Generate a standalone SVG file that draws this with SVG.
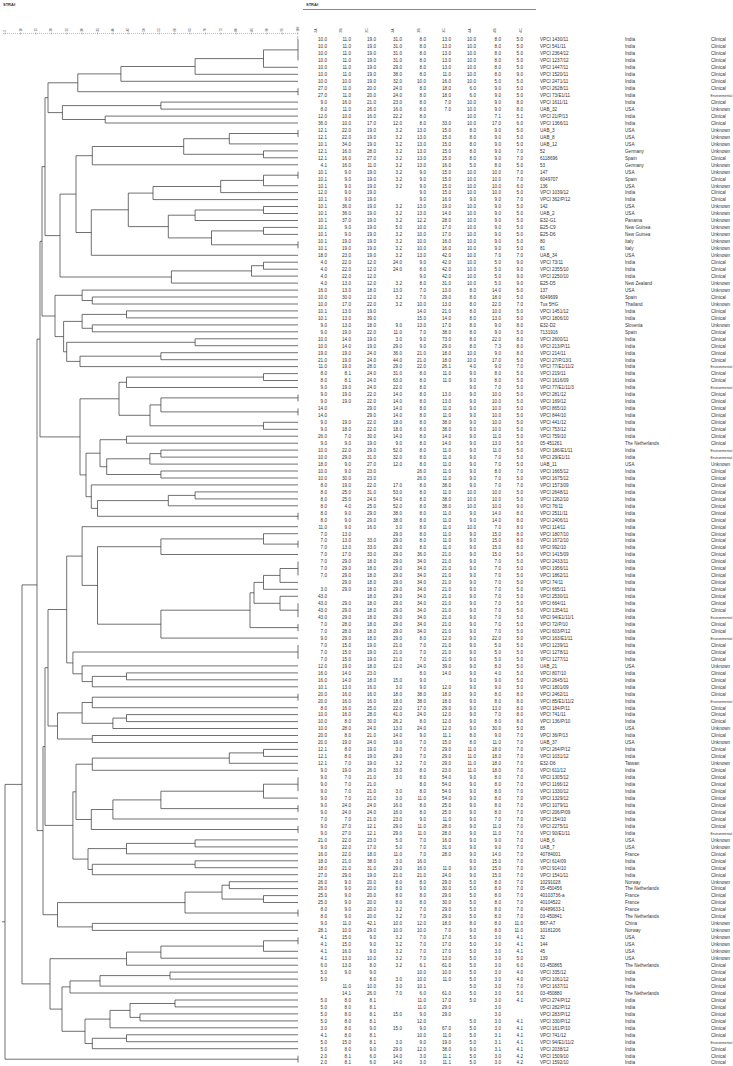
<svg xmlns="http://www.w3.org/2000/svg" width="733" height="1066" viewBox="0 0 733 1066">
<style>
text{font-family:"Liberation Sans",Arial,sans-serif;fill:#333}
.n{font-size:4.6px;text-anchor:end}
.l{font-size:4.6px}
.e{font-size:3.4px}
.h{font-size:4px;font-weight:bold}
.hd{font-size:3.5px}
.ax{font-size:3px}
#tree path{fill:none;stroke:#333;stroke-width:0.7}
</style>
<rect width="733" height="1066" fill="#fff"/>
<text class="h" x="3" y="6">STRAf</text>
<text class="h" x="306" y="6">STRAf</text>
<line x1="303" y1="9.5" x2="536" y2="9.5" stroke="#888" stroke-width="1"/>
<g id="axis">
<line x1="3" y1="33.5" x2="298" y2="33.5" stroke="#777" stroke-width="0.6" stroke-dasharray="0.8,1.2"/>
<path d="M5.1 32.5v2M20.5 32.5v2M35.9 32.5v2M51.3 32.5v2M66.7 32.5v2M82.1 32.5v2M97.5 32.5v2M112.9 32.5v2M128.3 32.5v2M143.7 32.5v2M159.1 32.5v2M174.5 32.5v2M189.9 32.5v2M205.3 32.5v2M220.7 32.5v2M236.1 32.5v2M251.5 32.5v2M266.9 32.5v2M282.3 32.5v2M297.7 32.5v2M297.7 36v4" stroke="#777" stroke-width="0.5"/>
<g class="ax">
<text transform="translate(6.2,31.5) rotate(-90)">5</text>
<text transform="translate(21.6,31.5) rotate(-90)">10</text>
<text transform="translate(37,31.5) rotate(-90)">15</text>
<text transform="translate(52.4,31.5) rotate(-90)">20</text>
<text transform="translate(67.8,31.5) rotate(-90)">25</text>
<text transform="translate(83.2,31.5) rotate(-90)">30</text>
<text transform="translate(98.6,31.5) rotate(-90)">35</text>
<text transform="translate(114,31.5) rotate(-90)">40</text>
<text transform="translate(129.4,31.5) rotate(-90)">45</text>
<text transform="translate(144.8,31.5) rotate(-90)">50</text>
<text transform="translate(160.2,31.5) rotate(-90)">55</text>
<text transform="translate(175.6,31.5) rotate(-90)">60</text>
<text transform="translate(191,31.5) rotate(-90)">65</text>
<text transform="translate(206.4,31.5) rotate(-90)">70</text>
<text transform="translate(221.8,31.5) rotate(-90)">75</text>
<text transform="translate(237.2,31.5) rotate(-90)">80</text>
<text transform="translate(252.6,31.5) rotate(-90)">85</text>
<text transform="translate(268,31.5) rotate(-90)">90</text>
<text transform="translate(283.4,31.5) rotate(-90)">95</text>
<text transform="translate(298.8,31.5) rotate(-90)">100</text>
</g>
</g>
<g id="headers" class="hd">
<text transform="translate(316.5,32.7) rotate(-90)">2A</text>
<text transform="translate(341.5,32.7) rotate(-90)">2B</text>
<text transform="translate(368,32.7) rotate(-90)">2C</text>
<text transform="translate(394,32.7) rotate(-90)">3A</text>
<text transform="translate(419.5,32.7) rotate(-90)">3B</text>
<text transform="translate(445.3,32.7) rotate(-90)">3C</text>
<text transform="translate(470.5,32.7) rotate(-90)">4A</text>
<text transform="translate(496.3,32.7) rotate(-90)">4B</text>
<text transform="translate(522,32.7) rotate(-90)">4C</text>
</g>
<g id="tree">
<path d="M298 39.5V60.4M298 88.2V95.2M298 130V136.9M298 171.7V178.7M298 241.3V248.3M298 394.5V401.4M298 408.4V415.3M298 512.8V519.7M298 540.6V547.6M298 561.5V575.4M298 603.3V617.2M298 624.1V631.1M298 645V658.9M298 693.7V700.7M298 777.3V791.2M298 805.1V812.1M298 826V832.9M298 909.5V916.5M298 937.3V944.3M298 1055.7V1062.6"/>
<path d="M298 49.9H263.5V67.3H298M263.5 58.6H195.1V74.3H298M195.1 66.5H120.9V81.3H298M120.9 73.9H77.8V91.7H298M298 102.1H160.9V109.1H298M298 116.1H105.2V123H298M160.9 105.6H62.4V119.5H105.2M77.8 82.8H48V112.6H62.4"/>
<path d="M298 133.5H229.3V143.9H298M298 150.9H263.5V157.8H298M229.3 138.7H183.7V154.3H263.5M183.7 146.5H92.3V164.8H298M298 175.2H263.5V185.7H298M263.5 180.4H220.7V192.6H298M220.7 186.5H153V199.6H298M298 206.5H263.5V213.5H298M263.5 210H195.1V220.5H298M298 227.4H263.5V234.4H298M263.5 230.9H211.5V244.8H298M195.1 215.2H168.3V237.9H211.5M153 193.1H128.3V226.6H168.3M128.3 209.8H91.3V255.3H298M92.3 155.7H76V232.5H91.3"/>
<path d="M298 262.2H263.5V269.2H298M263.5 265.7H251.5V276.1H298M251.5 270.9H171.4V283.1H298M76 194.1H60V277H171.4M48 97.7H45V235.6H60"/>
<path d="M298 297H92.3V304H298M298 290.1H82.1V300.5H92.3M298 310.9H126.5V317.9H298M298 324.9H92.3V331.8H298M126.5 314.4H82.1V328.3H92.3M298 338.8H195.1V345.7H298M298 352.7H160.9V359.7H298M160.9 356.2H80V366.6H298M195.1 342.3H66.7V361.4H80M82.1 321.4H63.6V351.8H66.7M82.1 295.3H55V336.6H63.6M45 166.6H42V316H55"/>
<path d="M298 373.6H263.5V380.5H298M263.5 377.1H126.5V387.5H298M298 397.9H160.9V411.9H298M298 422.3H263.5V429.3H298M160.9 404.9H150V425.8H263.5M126.5 382.3H119V415.3H150M298 436.2H126.5V443.2H298M298 450.1H160.9V457.1H298M160.9 453.6H149.9V464.1H298M298 471H160.9V478H298M149.9 458.8H106.7V474.5H160.9M126.5 439.7H100V466.7H106.7M298 491.9H195.1V498.9H298M195.1 495.4H168.3V505.8H298M168.3 500.6H97.5V516.3H298M298 484.9H91.3V508.4H97.5M100 453.2H86V496.7H91.3M119 398.8H80V474.9H86M42 241.3H40V436.9H80"/>
<path d="M298 533.7H263.5V544.1H298M263.5 538.9H160.9V554.5H298M298 568.5H280V582.4H298M280 575.4H263.5V589.3H298M298 596.3H280V610.2H298M263.5 582.4H254V603.3H280M254 592.8H250V627.6H298M250 610.2H160.9V638.1H298M160.9 546.7H97.5V624.2H160.9M298 526.7H82.1V585.4H97.5M298 672.9H126.5V679.8H298M126.5 676.4H92.3V686.8H298M298 665.9H82.1V681.6H92.3M298 652H72.9V673.8H82.1M82.1 556.1H66.7V662.9H72.9"/>
<path d="M298 697.2H92.3V707.7H298M298 714.6H126.5V721.6H298M126.5 718.1H112.9V728.5H298M92.3 702.5H82.1V723.3H112.9M298 735.5H92.3V742.5H298M82.1 712.9H57.5V739H92.3M66.7 609.5H48V726H57.5"/>
<path d="M298 749.4H263.5V756.4H298M263.5 752.9H229.3V763.3H298M229.3 758.1H92.3V770.3H298M298 784.2H263.5V798.1H298M263.5 791.2H160.9V808.6H298M160.9 799.9H112.9V819H298M112.9 809.5H91.3V829.5H298M92.3 764.2H76V819.5H91.3M298 839.9H195.1V846.9H298M195.1 843.4H126.5V853.8H298M298 860.8H195.1V867.7H298M195.1 864.3H92.3V874.7H298M126.5 848.6H88V869.5H92.3M76 791.8H72.9V859.1H88M48 667.7H45V825.4H72.9"/>
<path d="M298 881.7H229.3V888.6H298M298 895.6H263.5V902.5H298M229.3 885.2H222V899.1H263.5M222 892.1H185V913H298M298 923.4H92.3V930.4H298M185 902.6H57.5V926.9H92.3M45 746.6H43V914.7H57.5M40 339.1H37V830.6H43"/>
<path d="M298 940.8H263.5V951.3H298M263.5 946.1H160.9V958.2H298M160.9 952.1H126.5V965.2H298M298 972.1H170V979.1H298M170 975.6H100V986.1H298M100 980.9H70V993H298M298 1000H175V1006.9H298M298 1013.9H140V1020.9H298M175 1003.5H130V1017.4H140M130 1010.4H110V1027.8H298M298 1034.8H126.5V1041.7H298M126.5 1038.3H92.3V1048.7H298M110 1019.1H85V1043.5H92.3M70 986.9H62V1031.3H85M126.5 958.7H50V1009.1H62"/>
<path d="M37 584.9H22V983.9H50M22 784.4H5V1059.2H298M5 921.8H2"/>
</g>
<g id="table">
<g id="r0"><text class="n" y="41.3"><tspan x="327">10.0</tspan><tspan x="351">11.0</tspan><tspan x="376">19.0</tspan><tspan x="402">31.0</tspan><tspan x="426">8.0</tspan><tspan x="451">13.0</tspan><tspan x="476">10.0</tspan><tspan x="501">8.0</tspan><tspan x="523">5.0</tspan></text><text class="l" y="41.3"><tspan x="540">VPCI 1430/11</tspan><tspan x="625">India</tspan><tspan x="711">Clinical</tspan></text></g>
<g id="r1"><text class="n" y="48.3"><tspan x="327">10.0</tspan><tspan x="351">11.0</tspan><tspan x="376">19.0</tspan><tspan x="402">31.0</tspan><tspan x="426">8.0</tspan><tspan x="451">13.0</tspan><tspan x="476">10.0</tspan><tspan x="501">8.0</tspan><tspan x="523">5.0</tspan></text><text class="l" y="48.3"><tspan x="540">VPCI 541/11</tspan><tspan x="625">India</tspan><tspan x="711">Clinical</tspan></text></g>
<g id="r2"><text class="n" y="55.2"><tspan x="327">10.0</tspan><tspan x="351">11.0</tspan><tspan x="376">19.0</tspan><tspan x="402">31.0</tspan><tspan x="426">8.0</tspan><tspan x="451">13.0</tspan><tspan x="476">10.0</tspan><tspan x="501">8.0</tspan><tspan x="523">5.0</tspan></text><text class="l" y="55.2"><tspan x="540">VPCI 2364/12</tspan><tspan x="625">India</tspan><tspan x="711">Clinical</tspan></text></g>
<g id="r3"><text class="n" y="62.2"><tspan x="327">10.0</tspan><tspan x="351">11.0</tspan><tspan x="376">19.0</tspan><tspan x="402">31.0</tspan><tspan x="426">8.0</tspan><tspan x="451">13.0</tspan><tspan x="476">10.0</tspan><tspan x="501">8.0</tspan><tspan x="523">5.0</tspan></text><text class="l" y="62.2"><tspan x="540">VPCI 1237/12</tspan><tspan x="625">India</tspan><tspan x="711">Clinical</tspan></text></g>
<g id="r4"><text class="n" y="69.1"><tspan x="327">10.0</tspan><tspan x="351">11.0</tspan><tspan x="376">19.0</tspan><tspan x="402">29.0</tspan><tspan x="426">8.0</tspan><tspan x="451">13.0</tspan><tspan x="476">10.0</tspan><tspan x="501">8.0</tspan><tspan x="523">5.0</tspan></text><text class="l" y="69.1"><tspan x="540">VPCI 1447/11</tspan><tspan x="625">India</tspan><tspan x="711">Clinical</tspan></text></g>
<g id="r5"><text class="n" y="76.1"><tspan x="327">10.0</tspan><tspan x="351">11.0</tspan><tspan x="376">19.0</tspan><tspan x="402">38.0</tspan><tspan x="426">8.0</tspan><tspan x="451">11.0</tspan><tspan x="476">10.0</tspan><tspan x="501">8.0</tspan><tspan x="523">9.0</tspan></text><text class="l" y="76.1"><tspan x="540">VPCI 1520/11</tspan><tspan x="625">India</tspan><tspan x="711">Clinical</tspan></text></g>
<g id="r6"><text class="n" y="83.1"><tspan x="327">10.0</tspan><tspan x="351">10.0</tspan><tspan x="376">19.0</tspan><tspan x="402">32.0</tspan><tspan x="426">10.0</tspan><tspan x="451">16.0</tspan><tspan x="476">10.0</tspan><tspan x="501">5.0</tspan><tspan x="523">5.0</tspan></text><text class="l" y="83.1"><tspan x="540">VPCI 2471/11</tspan><tspan x="625">India</tspan><tspan x="711">Clinical</tspan></text></g>
<g id="r7"><text class="n" y="90.0"><tspan x="327">27.0</tspan><tspan x="351">11.0</tspan><tspan x="376">20.0</tspan><tspan x="402">24.0</tspan><tspan x="426">8.0</tspan><tspan x="451">18.0</tspan><tspan x="476">6.0</tspan><tspan x="501">9.0</tspan><tspan x="523">5.0</tspan></text><text class="l" y="90.0"><tspan x="540">VPCI 2628/11</tspan><tspan x="625">India</tspan><tspan x="711">Clinical</tspan></text></g>
<g id="r8"><text class="n" y="97.0"><tspan x="327">27.0</tspan><tspan x="351">11.0</tspan><tspan x="376">20.0</tspan><tspan x="402">24.0</tspan><tspan x="426">8.0</tspan><tspan x="451">18.0</tspan><tspan x="476">6.0</tspan><tspan x="501">9.0</tspan><tspan x="523">5.0</tspan></text><text class="l" y="97.0"><tspan x="540">VPCI 73/E1/11</tspan><tspan x="625">India</tspan></text><text class="e" x="710.5" y="97.0">Environmental</text></g>
<g id="r9"><text class="n" y="103.9"><tspan x="327">9.0</tspan><tspan x="351">16.0</tspan><tspan x="376">21.0</tspan><tspan x="402">23.0</tspan><tspan x="426">8.0</tspan><tspan x="451">7.0</tspan><tspan x="476">10.0</tspan><tspan x="501">9.0</tspan><tspan x="523">8.0</tspan></text><text class="l" y="103.9"><tspan x="540">VPCI 1611/11</tspan><tspan x="625">India</tspan><tspan x="711">Clinical</tspan></text></g>
<g id="r10"><text class="n" y="110.9"><tspan x="327">8.0</tspan><tspan x="351">11.0</tspan><tspan x="376">26.0</tspan><tspan x="402">16.0</tspan><tspan x="426">8.0</tspan><tspan x="451">7.0</tspan><tspan x="476">10.0</tspan><tspan x="501">9.0</tspan><tspan x="523">8.0</tspan></text><text class="l" y="110.9"><tspan x="540">UAB_32</tspan><tspan x="625">USA</tspan><tspan x="711">Unknown</tspan></text></g>
<g id="r11"><text class="n" y="117.9"><tspan x="327">12.0</tspan><tspan x="351">10.0</tspan><tspan x="376">16.0</tspan><tspan x="402">22.2</tspan><tspan x="426">8.0</tspan><tspan x="476">10.0</tspan><tspan x="501">7.1</tspan><tspan x="523">5.1</tspan></text><text class="l" y="117.9"><tspan x="540">VPCI 21/P/13</tspan><tspan x="625">India</tspan><tspan x="711">Clinical</tspan></text></g>
<g id="r12"><text class="n" y="124.8"><tspan x="327">36.0</tspan><tspan x="351">10.0</tspan><tspan x="376">17.0</tspan><tspan x="402">12.0</tspan><tspan x="426">8.0</tspan><tspan x="451">33.0</tspan><tspan x="476">10.0</tspan><tspan x="501">17.0</tspan><tspan x="523">6.0</tspan></text><text class="l" y="124.8"><tspan x="540">VPCI 1366/11</tspan><tspan x="625">India</tspan><tspan x="711">Clinical</tspan></text></g>
<g id="r13"><text class="n" y="131.8"><tspan x="327">12.1</tspan><tspan x="351">22.0</tspan><tspan x="376">19.0</tspan><tspan x="402">3.2</tspan><tspan x="426">13.0</tspan><tspan x="451">15.0</tspan><tspan x="476">8.0</tspan><tspan x="501">9.0</tspan><tspan x="523">5.0</tspan></text><text class="l" y="131.8"><tspan x="540">UAB_3</tspan><tspan x="625">USA</tspan><tspan x="711">Unknown</tspan></text></g>
<g id="r14"><text class="n" y="138.7"><tspan x="327">12.1</tspan><tspan x="351">22.0</tspan><tspan x="376">19.0</tspan><tspan x="402">3.2</tspan><tspan x="426">13.0</tspan><tspan x="451">15.0</tspan><tspan x="476">8.0</tspan><tspan x="501">9.0</tspan><tspan x="523">5.0</tspan></text><text class="l" y="138.7"><tspan x="540">UAB_8</tspan><tspan x="625">USA</tspan><tspan x="711">Unknown</tspan></text></g>
<g id="r15"><text class="n" y="145.7"><tspan x="327">10.1</tspan><tspan x="351">34.0</tspan><tspan x="376">19.0</tspan><tspan x="402">3.2</tspan><tspan x="426">13.0</tspan><tspan x="451">15.0</tspan><tspan x="476">8.0</tspan><tspan x="501">9.0</tspan><tspan x="523">5.0</tspan></text><text class="l" y="145.7"><tspan x="540">UAB_12</tspan><tspan x="625">USA</tspan><tspan x="711">Unknown</tspan></text></g>
<g id="r16"><text class="n" y="152.7"><tspan x="327">12.1</tspan><tspan x="351">16.0</tspan><tspan x="376">28.0</tspan><tspan x="402">3.2</tspan><tspan x="426">13.0</tspan><tspan x="451">15.0</tspan><tspan x="476">8.0</tspan><tspan x="501">9.0</tspan><tspan x="523">7.0</tspan></text><text class="l" y="152.7"><tspan x="540">52</tspan><tspan x="625">Germany</tspan><tspan x="711">Unknown</tspan></text></g>
<g id="r17"><text class="n" y="159.6"><tspan x="327">12.1</tspan><tspan x="351">16.0</tspan><tspan x="376">27.0</tspan><tspan x="402">3.2</tspan><tspan x="426">13.0</tspan><tspan x="451">15.0</tspan><tspan x="476">8.0</tspan><tspan x="501">9.0</tspan><tspan x="523">7.0</tspan></text><text class="l" y="159.6"><tspan x="540">6118696</tspan><tspan x="625">Spain</tspan><tspan x="711">Clinical</tspan></text></g>
<g id="r18"><text class="n" y="166.6"><tspan x="327">4.1</tspan><tspan x="351">16.0</tspan><tspan x="376">11.0</tspan><tspan x="402">3.2</tspan><tspan x="426">13.0</tspan><tspan x="451">16.0</tspan><tspan x="476">5.0</tspan><tspan x="501">8.0</tspan><tspan x="523">5.0</tspan></text><text class="l" y="166.6"><tspan x="540">53</tspan><tspan x="625">Germany</tspan><tspan x="711">Unknown</tspan></text></g>
<g id="r19"><text class="n" y="173.5"><tspan x="327">10.1</tspan><tspan x="351">9.0</tspan><tspan x="376">19.0</tspan><tspan x="402">3.2</tspan><tspan x="426">9.0</tspan><tspan x="451">15.0</tspan><tspan x="476">10.0</tspan><tspan x="501">10.0</tspan><tspan x="523">7.0</tspan></text><text class="l" y="173.5"><tspan x="540">147</tspan><tspan x="625">USA</tspan><tspan x="711">Unknown</tspan></text></g>
<g id="r20"><text class="n" y="180.5"><tspan x="327">10.1</tspan><tspan x="351">9.0</tspan><tspan x="376">19.0</tspan><tspan x="402">3.2</tspan><tspan x="426">9.0</tspan><tspan x="451">15.0</tspan><tspan x="476">10.0</tspan><tspan x="501">10.0</tspan><tspan x="523">7.0</tspan></text><text class="l" y="180.5"><tspan x="540">6049707</tspan><tspan x="625">Spain</tspan><tspan x="711">Clinical</tspan></text></g>
<g id="r21"><text class="n" y="187.5"><tspan x="327">10.1</tspan><tspan x="351">9.0</tspan><tspan x="376">19.0</tspan><tspan x="402">3.2</tspan><tspan x="426">9.0</tspan><tspan x="451">15.0</tspan><tspan x="476">10.0</tspan><tspan x="501">10.0</tspan><tspan x="523">6.0</tspan></text><text class="l" y="187.5"><tspan x="540">136</tspan><tspan x="625">USA</tspan><tspan x="711">Unknown</tspan></text></g>
<g id="r22"><text class="n" y="194.4"><tspan x="327">12.0</tspan><tspan x="351">9.0</tspan><tspan x="376">19.0</tspan><tspan x="426">9.0</tspan><tspan x="451">15.0</tspan><tspan x="476">10.0</tspan><tspan x="501">10.0</tspan><tspan x="523">5.0</tspan></text><text class="l" y="194.4"><tspan x="540">VPCI 1039/12</tspan><tspan x="625">India</tspan><tspan x="711">Clinical</tspan></text></g>
<g id="r23"><text class="n" y="201.4"><tspan x="327">10.1</tspan><tspan x="351">9.0</tspan><tspan x="376">19.0</tspan><tspan x="426">9.0</tspan><tspan x="451">16.0</tspan><tspan x="476">9.0</tspan><tspan x="501">9.0</tspan><tspan x="523">7.0</tspan></text><text class="l" y="201.4"><tspan x="540">VPCI 362/P/12</tspan><tspan x="625">India</tspan><tspan x="711">Clinical</tspan></text></g>
<g id="r24"><text class="n" y="208.3"><tspan x="327">10.1</tspan><tspan x="351">36.0</tspan><tspan x="376">19.0</tspan><tspan x="402">3.2</tspan><tspan x="426">13.0</tspan><tspan x="451">19.0</tspan><tspan x="476">10.0</tspan><tspan x="501">9.0</tspan><tspan x="523">5.0</tspan></text><text class="l" y="208.3"><tspan x="540">142</tspan><tspan x="625">USA</tspan><tspan x="711">Unknown</tspan></text></g>
<g id="r25"><text class="n" y="215.3"><tspan x="327">10.1</tspan><tspan x="351">36.0</tspan><tspan x="376">19.0</tspan><tspan x="402">3.2</tspan><tspan x="426">13.0</tspan><tspan x="451">14.0</tspan><tspan x="476">10.0</tspan><tspan x="501">9.0</tspan><tspan x="523">5.0</tspan></text><text class="l" y="215.3"><tspan x="540">UAB_2</tspan><tspan x="625">USA</tspan><tspan x="711">Unknown</tspan></text></g>
<g id="r26"><text class="n" y="222.3"><tspan x="327">10.1</tspan><tspan x="351">37.0</tspan><tspan x="376">19.0</tspan><tspan x="402">3.2</tspan><tspan x="426">12.2</tspan><tspan x="451">28.0</tspan><tspan x="476">10.0</tspan><tspan x="501">9.0</tspan><tspan x="523">5.0</tspan></text><text class="l" y="222.3"><tspan x="540">E32-G1</tspan><tspan x="625">Panama</tspan><tspan x="711">Unknown</tspan></text></g>
<g id="r27"><text class="n" y="229.2"><tspan x="327">10.1</tspan><tspan x="351">9.0</tspan><tspan x="376">19.0</tspan><tspan x="402">5.0</tspan><tspan x="426">10.0</tspan><tspan x="451">17.0</tspan><tspan x="476">10.0</tspan><tspan x="501">9.0</tspan><tspan x="523">5.0</tspan></text><text class="l" y="229.2"><tspan x="540">E25-C9</tspan><tspan x="625">New Guinea</tspan><tspan x="711">Unknown</tspan></text></g>
<g id="r28"><text class="n" y="236.2"><tspan x="327">10.1</tspan><tspan x="351">9.0</tspan><tspan x="376">19.0</tspan><tspan x="402">3.2</tspan><tspan x="426">10.0</tspan><tspan x="451">17.0</tspan><tspan x="476">10.0</tspan><tspan x="501">9.0</tspan><tspan x="523">5.0</tspan></text><text class="l" y="236.2"><tspan x="540">E25-D6</tspan><tspan x="625">New Guinea</tspan><tspan x="711">Unknown</tspan></text></g>
<g id="r29"><text class="n" y="243.1"><tspan x="327">10.1</tspan><tspan x="351">19.0</tspan><tspan x="376">19.0</tspan><tspan x="402">3.2</tspan><tspan x="426">10.0</tspan><tspan x="451">16.0</tspan><tspan x="476">10.0</tspan><tspan x="501">9.0</tspan><tspan x="523">5.0</tspan></text><text class="l" y="243.1"><tspan x="540">80</tspan><tspan x="625">Italy</tspan><tspan x="711">Unknown</tspan></text></g>
<g id="r30"><text class="n" y="250.1"><tspan x="327">10.1</tspan><tspan x="351">19.0</tspan><tspan x="376">19.0</tspan><tspan x="402">3.2</tspan><tspan x="426">10.0</tspan><tspan x="451">16.0</tspan><tspan x="476">10.0</tspan><tspan x="501">9.0</tspan><tspan x="523">5.0</tspan></text><text class="l" y="250.1"><tspan x="540">81</tspan><tspan x="625">Italy</tspan><tspan x="711">Unknown</tspan></text></g>
<g id="r31"><text class="n" y="257.1"><tspan x="327">18.0</tspan><tspan x="351">23.0</tspan><tspan x="376">19.0</tspan><tspan x="402">3.2</tspan><tspan x="426">13.0</tspan><tspan x="451">42.0</tspan><tspan x="476">10.0</tspan><tspan x="501">7.0</tspan><tspan x="523">7.0</tspan></text><text class="l" y="257.1"><tspan x="540">UAB_34</tspan><tspan x="625">USA</tspan><tspan x="711">Unknown</tspan></text></g>
<g id="r32"><text class="n" y="264.0"><tspan x="327">4.0</tspan><tspan x="351">22.0</tspan><tspan x="376">12.0</tspan><tspan x="402">24.0</tspan><tspan x="426">9.0</tspan><tspan x="451">42.0</tspan><tspan x="476">10.0</tspan><tspan x="501">5.0</tspan><tspan x="523">9.0</tspan></text><text class="l" y="264.0"><tspan x="540">VPCI 73/11</tspan><tspan x="625">India</tspan><tspan x="711">Clinical</tspan></text></g>
<g id="r33"><text class="n" y="271.0"><tspan x="327">4.0</tspan><tspan x="351">22.0</tspan><tspan x="376">12.0</tspan><tspan x="402">24.0</tspan><tspan x="426">8.0</tspan><tspan x="451">42.0</tspan><tspan x="476">10.0</tspan><tspan x="501">5.0</tspan><tspan x="523">9.0</tspan></text><text class="l" y="271.0"><tspan x="540">VPCI 2355/10</tspan><tspan x="625">India</tspan><tspan x="711">Clinical</tspan></text></g>
<g id="r34"><text class="n" y="277.9"><tspan x="327">4.0</tspan><tspan x="351">22.0</tspan><tspan x="376">12.0</tspan><tspan x="426">9.0</tspan><tspan x="451">42.0</tspan><tspan x="476">10.0</tspan><tspan x="501">5.0</tspan><tspan x="523">9.0</tspan></text><text class="l" y="277.9"><tspan x="540">VPCI 2250/10</tspan><tspan x="625">India</tspan><tspan x="711">Clinical</tspan></text></g>
<g id="r35"><text class="n" y="284.9"><tspan x="327">4.0</tspan><tspan x="351">13.0</tspan><tspan x="376">12.0</tspan><tspan x="402">3.2</tspan><tspan x="426">8.0</tspan><tspan x="451">31.0</tspan><tspan x="476">10.0</tspan><tspan x="501">5.0</tspan><tspan x="523">9.0</tspan></text><text class="l" y="284.9"><tspan x="540">E25-D5</tspan><tspan x="625">New Zealand</tspan><tspan x="711">Unknown</tspan></text></g>
<g id="r36"><text class="n" y="291.9"><tspan x="327">16.0</tspan><tspan x="351">13.0</tspan><tspan x="376">18.0</tspan><tspan x="402">13.0</tspan><tspan x="426">7.0</tspan><tspan x="451">13.0</tspan><tspan x="476">8.0</tspan><tspan x="501">14.0</tspan><tspan x="523">5.0</tspan></text><text class="l" y="291.9"><tspan x="540">137</tspan><tspan x="625">USA</tspan><tspan x="711">Unknown</tspan></text></g>
<g id="r37"><text class="n" y="298.8"><tspan x="327">10.0</tspan><tspan x="351">30.0</tspan><tspan x="376">12.0</tspan><tspan x="402">3.2</tspan><tspan x="426">7.0</tspan><tspan x="451">29.0</tspan><tspan x="476">8.0</tspan><tspan x="501">18.0</tspan><tspan x="523">5.0</tspan></text><text class="l" y="298.8"><tspan x="540">6049699</tspan><tspan x="625">Spain</tspan><tspan x="711">Clinical</tspan></text></g>
<g id="r38"><text class="n" y="305.8"><tspan x="327">10.0</tspan><tspan x="351">17.0</tspan><tspan x="376">22.0</tspan><tspan x="402">3.2</tspan><tspan x="426">10.0</tspan><tspan x="451">13.0</tspan><tspan x="476">8.0</tspan><tspan x="501">22.0</tspan><tspan x="523">7.0</tspan></text><text class="l" y="305.8"><tspan x="540">Tus 5HG</tspan><tspan x="625">Thailand</tspan><tspan x="711">Unknown</tspan></text></g>
<g id="r39"><text class="n" y="312.7"><tspan x="327">10.1</tspan><tspan x="351">13.0</tspan><tspan x="376">19.0</tspan><tspan x="426">14.0</tspan><tspan x="451">21.0</tspan><tspan x="476">8.0</tspan><tspan x="501">10.0</tspan><tspan x="523">5.0</tspan></text><text class="l" y="312.7"><tspan x="540">VPCI 1451/12</tspan><tspan x="625">India</tspan><tspan x="711">Clinical</tspan></text></g>
<g id="r40"><text class="n" y="319.7"><tspan x="327">10.1</tspan><tspan x="351">13.0</tspan><tspan x="376">39.0</tspan><tspan x="426">15.0</tspan><tspan x="451">14.0</tspan><tspan x="476">8.0</tspan><tspan x="501">13.0</tspan><tspan x="523">5.0</tspan></text><text class="l" y="319.7"><tspan x="540">VPCI 1806/10</tspan><tspan x="625">India</tspan><tspan x="711">Clinical</tspan></text></g>
<g id="r41"><text class="n" y="326.7"><tspan x="327">9.0</tspan><tspan x="351">13.0</tspan><tspan x="376">18.0</tspan><tspan x="402">9.0</tspan><tspan x="426">13.0</tspan><tspan x="451">17.0</tspan><tspan x="476">8.0</tspan><tspan x="501">9.0</tspan><tspan x="523">8.0</tspan></text><text class="l" y="326.7"><tspan x="540">E32-D2</tspan><tspan x="625">Slovenia</tspan><tspan x="711">Unknown</tspan></text></g>
<g id="r42"><text class="n" y="333.6"><tspan x="327">9.0</tspan><tspan x="351">19.0</tspan><tspan x="376">22.0</tspan><tspan x="402">11.0</tspan><tspan x="426">7.0</tspan><tspan x="451">38.0</tspan><tspan x="476">8.0</tspan><tspan x="501">9.0</tspan><tspan x="523">5.0</tspan></text><text class="l" y="333.6"><tspan x="540">7131916</tspan><tspan x="625">Spain</tspan><tspan x="711">Clinical</tspan></text></g>
<g id="r43"><text class="n" y="340.6"><tspan x="327">10.0</tspan><tspan x="351">14.0</tspan><tspan x="376">19.0</tspan><tspan x="402">3.0</tspan><tspan x="426">9.0</tspan><tspan x="451">73.0</tspan><tspan x="476">8.0</tspan><tspan x="501">22.0</tspan><tspan x="523">8.0</tspan></text><text class="l" y="340.6"><tspan x="540">VPCI 2600/11</tspan><tspan x="625">India</tspan><tspan x="711">Clinical</tspan></text></g>
<g id="r44"><text class="n" y="347.5"><tspan x="327">10.0</tspan><tspan x="351">14.0</tspan><tspan x="376">19.0</tspan><tspan x="402">29.0</tspan><tspan x="426">9.0</tspan><tspan x="451">29.0</tspan><tspan x="476">8.0</tspan><tspan x="501">7.3</tspan><tspan x="523">8.0</tspan></text><text class="l" y="347.5"><tspan x="540">VPCI 213/P/11</tspan><tspan x="625">India</tspan><tspan x="711">Clinical</tspan></text></g>
<g id="r45"><text class="n" y="354.5"><tspan x="327">19.0</tspan><tspan x="351">19.0</tspan><tspan x="376">24.0</tspan><tspan x="402">36.0</tspan><tspan x="426">21.0</tspan><tspan x="451">18.0</tspan><tspan x="476">10.0</tspan><tspan x="501">9.0</tspan><tspan x="523">8.0</tspan></text><text class="l" y="354.5"><tspan x="540">VPCI 214/11</tspan><tspan x="625">India</tspan><tspan x="711">Clinical</tspan></text></g>
<g id="r46"><text class="n" y="361.5"><tspan x="327">21.0</tspan><tspan x="351">19.0</tspan><tspan x="376">24.0</tspan><tspan x="402">44.0</tspan><tspan x="426">21.0</tspan><tspan x="451">18.0</tspan><tspan x="476">10.0</tspan><tspan x="501">17.0</tspan><tspan x="523">5.0</tspan></text><text class="l" y="361.5"><tspan x="540">VPCI 27/P/13/1</tspan><tspan x="625">India</tspan><tspan x="711">Clinical</tspan></text></g>
<g id="r47"><text class="n" y="368.4"><tspan x="327">11.0</tspan><tspan x="351">19.0</tspan><tspan x="376">28.0</tspan><tspan x="402">29.0</tspan><tspan x="426">22.0</tspan><tspan x="451">26.1</tspan><tspan x="476">4.0</tspan><tspan x="501">9.0</tspan><tspan x="523">7.0</tspan></text><text class="l" y="368.4"><tspan x="540">VPCI 77/E1/11/2</tspan><tspan x="625">India</tspan></text><text class="e" x="710.5" y="368.4">Environmental</text></g>
<g id="r48"><text class="n" y="375.4"><tspan x="327">8.0</tspan><tspan x="351">8.1</tspan><tspan x="376">24.0</tspan><tspan x="402">31.0</tspan><tspan x="426">8.0</tspan><tspan x="451">11.0</tspan><tspan x="476">9.0</tspan><tspan x="501">8.0</tspan><tspan x="523">5.0</tspan></text><text class="l" y="375.4"><tspan x="540">VPCI 219/11</tspan><tspan x="625">India</tspan><tspan x="711">Clinical</tspan></text></g>
<g id="r49"><text class="n" y="382.3"><tspan x="327">8.0</tspan><tspan x="351">8.1</tspan><tspan x="376">24.0</tspan><tspan x="402">63.0</tspan><tspan x="426">8.0</tspan><tspan x="451">11.0</tspan><tspan x="476">9.0</tspan><tspan x="501">8.0</tspan><tspan x="523">5.0</tspan></text><text class="l" y="382.3"><tspan x="540">VPCI 1616/09</tspan><tspan x="625">India</tspan><tspan x="711">Clinical</tspan></text></g>
<g id="r50"><text class="n" y="389.3"><tspan x="327">9.0</tspan><tspan x="351">19.0</tspan><tspan x="376">24.0</tspan><tspan x="402">22.0</tspan><tspan x="426">8.0</tspan><tspan x="476">9.0</tspan><tspan x="501">7.0</tspan><tspan x="523">5.0</tspan></text><text class="l" y="389.3"><tspan x="540">VPCI 77/E1/11/3</tspan><tspan x="625">India</tspan></text><text class="e" x="710.5" y="389.3">Environmental</text></g>
<g id="r51"><text class="n" y="396.3"><tspan x="327">9.0</tspan><tspan x="351">19.0</tspan><tspan x="376">22.0</tspan><tspan x="402">14.0</tspan><tspan x="426">8.0</tspan><tspan x="451">13.0</tspan><tspan x="476">9.0</tspan><tspan x="501">10.0</tspan><tspan x="523">5.0</tspan></text><text class="l" y="396.3"><tspan x="540">VPCI 281/12</tspan><tspan x="625">India</tspan><tspan x="711">Clinical</tspan></text></g>
<g id="r52"><text class="n" y="403.2"><tspan x="327">9.0</tspan><tspan x="351">19.0</tspan><tspan x="376">22.0</tspan><tspan x="402">14.0</tspan><tspan x="426">8.0</tspan><tspan x="451">13.0</tspan><tspan x="476">9.0</tspan><tspan x="501">10.0</tspan><tspan x="523">5.0</tspan></text><text class="l" y="403.2"><tspan x="540">VPCI 169/12</tspan><tspan x="625">India</tspan><tspan x="711">Clinical</tspan></text></g>
<g id="r53"><text class="n" y="410.2"><tspan x="327">14.0</tspan><tspan x="376">29.0</tspan><tspan x="402">14.0</tspan><tspan x="426">8.0</tspan><tspan x="451">11.0</tspan><tspan x="476">9.0</tspan><tspan x="501">10.0</tspan><tspan x="523">5.0</tspan></text><text class="l" y="410.2"><tspan x="540">VPCI 865/10</tspan><tspan x="625">India</tspan><tspan x="711">Clinical</tspan></text></g>
<g id="r54"><text class="n" y="417.1"><tspan x="327">14.0</tspan><tspan x="376">29.0</tspan><tspan x="402">14.0</tspan><tspan x="426">8.0</tspan><tspan x="451">11.0</tspan><tspan x="476">9.0</tspan><tspan x="501">10.0</tspan><tspan x="523">5.0</tspan></text><text class="l" y="417.1"><tspan x="540">VPCI 844/10</tspan><tspan x="625">India</tspan><tspan x="711">Clinical</tspan></text></g>
<g id="r55"><text class="n" y="424.1"><tspan x="327">9.0</tspan><tspan x="351">19.0</tspan><tspan x="376">22.0</tspan><tspan x="402">18.0</tspan><tspan x="426">8.0</tspan><tspan x="451">38.0</tspan><tspan x="476">9.0</tspan><tspan x="501">10.0</tspan><tspan x="523">5.0</tspan></text><text class="l" y="424.1"><tspan x="540">VPCI 441/12</tspan><tspan x="625">India</tspan><tspan x="711">Clinical</tspan></text></g>
<g id="r56"><text class="n" y="431.1"><tspan x="327">9.0</tspan><tspan x="351">18.0</tspan><tspan x="376">22.0</tspan><tspan x="402">18.0</tspan><tspan x="426">8.0</tspan><tspan x="451">38.0</tspan><tspan x="476">9.0</tspan><tspan x="501">10.0</tspan><tspan x="523">5.0</tspan></text><text class="l" y="431.1"><tspan x="540">VPCI 753/12</tspan><tspan x="625">India</tspan><tspan x="711">Clinical</tspan></text></g>
<g id="r57"><text class="n" y="438.0"><tspan x="327">26.0</tspan><tspan x="351">7.0</tspan><tspan x="376">30.0</tspan><tspan x="402">14.0</tspan><tspan x="426">8.0</tspan><tspan x="451">14.0</tspan><tspan x="476">9.0</tspan><tspan x="501">11.0</tspan><tspan x="523">5.0</tspan></text><text class="l" y="438.0"><tspan x="540">VPCI 759/10</tspan><tspan x="625">India</tspan><tspan x="711">Clinical</tspan></text></g>
<g id="r58"><text class="n" y="445.0"><tspan x="327">9.0</tspan><tspan x="351">9.0</tspan><tspan x="376">19.0</tspan><tspan x="402">9.0</tspan><tspan x="426">8.0</tspan><tspan x="451">14.0</tspan><tspan x="476">9.0</tspan><tspan x="501">13.0</tspan><tspan x="523">5.0</tspan></text><text class="l" y="445.0"><tspan x="540">05-451261</tspan><tspan x="625">The Netherlands</tspan><tspan x="711">Clinical</tspan></text></g>
<g id="r59"><text class="n" y="451.9"><tspan x="327">10.0</tspan><tspan x="351">22.0</tspan><tspan x="376">29.0</tspan><tspan x="402">52.0</tspan><tspan x="426">8.0</tspan><tspan x="451">11.0</tspan><tspan x="476">9.0</tspan><tspan x="501">11.0</tspan><tspan x="523">5.0</tspan></text><text class="l" y="451.9"><tspan x="540">VPCI 186/E1/11</tspan><tspan x="625">India</tspan></text><text class="e" x="710.5" y="451.9">Environmental</text></g>
<g id="r60"><text class="n" y="458.9"><tspan x="327">10.0</tspan><tspan x="351">29.0</tspan><tspan x="376">31.0</tspan><tspan x="402">32.0</tspan><tspan x="426">8.0</tspan><tspan x="451">11.0</tspan><tspan x="476">9.0</tspan><tspan x="501">7.0</tspan><tspan x="523">5.0</tspan></text><text class="l" y="458.9"><tspan x="540">VPCI 29/E1/11</tspan><tspan x="625">India</tspan></text><text class="e" x="710.5" y="458.9">Environmental</text></g>
<g id="r61"><text class="n" y="465.9"><tspan x="327">18.0</tspan><tspan x="351">9.0</tspan><tspan x="376">27.0</tspan><tspan x="402">12.0</tspan><tspan x="426">8.0</tspan><tspan x="451">11.0</tspan><tspan x="476">9.0</tspan><tspan x="501">7.0</tspan><tspan x="523">5.0</tspan></text><text class="l" y="465.9"><tspan x="540">UAB_11</tspan><tspan x="625">USA</tspan><tspan x="711">Unknown</tspan></text></g>
<g id="r62"><text class="n" y="472.8"><tspan x="327">10.0</tspan><tspan x="351">9.0</tspan><tspan x="376">23.0</tspan><tspan x="426">26.0</tspan><tspan x="451">11.0</tspan><tspan x="476">9.0</tspan><tspan x="501">8.0</tspan><tspan x="523">7.0</tspan></text><text class="l" y="472.8"><tspan x="540">VPCI 1665/12</tspan><tspan x="625">India</tspan><tspan x="711">Clinical</tspan></text></g>
<g id="r63"><text class="n" y="479.8"><tspan x="327">10.0</tspan><tspan x="351">30.0</tspan><tspan x="376">23.0</tspan><tspan x="426">26.0</tspan><tspan x="451">11.0</tspan><tspan x="476">9.0</tspan><tspan x="501">7.0</tspan><tspan x="523">5.0</tspan></text><text class="l" y="479.8"><tspan x="540">VPCI 1675/12</tspan><tspan x="625">India</tspan><tspan x="711">Clinical</tspan></text></g>
<g id="r64"><text class="n" y="486.7"><tspan x="327">8.0</tspan><tspan x="351">19.0</tspan><tspan x="376">22.0</tspan><tspan x="402">17.0</tspan><tspan x="426">8.0</tspan><tspan x="451">38.0</tspan><tspan x="476">9.0</tspan><tspan x="501">7.0</tspan><tspan x="523">7.0</tspan></text><text class="l" y="486.7"><tspan x="540">VPCI 1573/09</tspan><tspan x="625">India</tspan><tspan x="711">Clinical</tspan></text></g>
<g id="r65"><text class="n" y="493.7"><tspan x="327">8.0</tspan><tspan x="351">25.0</tspan><tspan x="376">31.0</tspan><tspan x="402">53.0</tspan><tspan x="426">8.0</tspan><tspan x="451">11.0</tspan><tspan x="476">10.0</tspan><tspan x="501">10.0</tspan><tspan x="523">5.0</tspan></text><text class="l" y="493.7"><tspan x="540">VPCI 2648/11</tspan><tspan x="625">India</tspan><tspan x="711">Clinical</tspan></text></g>
<g id="r66"><text class="n" y="500.7"><tspan x="327">8.0</tspan><tspan x="351">25.0</tspan><tspan x="376">24.0</tspan><tspan x="402">54.0</tspan><tspan x="426">8.0</tspan><tspan x="451">38.0</tspan><tspan x="476">10.0</tspan><tspan x="501">10.0</tspan><tspan x="523">5.0</tspan></text><text class="l" y="500.7"><tspan x="540">VPCI 1262/10</tspan><tspan x="625">India</tspan><tspan x="711">Clinical</tspan></text></g>
<g id="r67"><text class="n" y="507.6"><tspan x="327">8.0</tspan><tspan x="351">4.0</tspan><tspan x="376">25.0</tspan><tspan x="402">52.0</tspan><tspan x="426">8.0</tspan><tspan x="451">38.0</tspan><tspan x="476">10.0</tspan><tspan x="501">10.0</tspan><tspan x="523">9.0</tspan></text><text class="l" y="507.6"><tspan x="540">VPCI 76/11</tspan><tspan x="625">India</tspan><tspan x="711">Clinical</tspan></text></g>
<g id="r68"><text class="n" y="514.6"><tspan x="327">8.0</tspan><tspan x="351">9.0</tspan><tspan x="376">29.0</tspan><tspan x="402">38.0</tspan><tspan x="426">8.0</tspan><tspan x="451">11.0</tspan><tspan x="476">9.0</tspan><tspan x="501">14.0</tspan><tspan x="523">8.0</tspan></text><text class="l" y="514.6"><tspan x="540">VPCI 2511/11</tspan><tspan x="625">India</tspan><tspan x="711">Clinical</tspan></text></g>
<g id="r69"><text class="n" y="521.5"><tspan x="327">8.0</tspan><tspan x="351">9.0</tspan><tspan x="376">29.0</tspan><tspan x="402">38.0</tspan><tspan x="426">8.0</tspan><tspan x="451">11.0</tspan><tspan x="476">9.0</tspan><tspan x="501">14.0</tspan><tspan x="523">8.0</tspan></text><text class="l" y="521.5"><tspan x="540">VPCI 2406/11</tspan><tspan x="625">India</tspan><tspan x="711">Clinical</tspan></text></g>
<g id="r70"><text class="n" y="528.5"><tspan x="327">11.0</tspan><tspan x="351">9.0</tspan><tspan x="376">16.0</tspan><tspan x="402">3.0</tspan><tspan x="426">8.0</tspan><tspan x="451">11.0</tspan><tspan x="476">10.0</tspan><tspan x="501">7.0</tspan><tspan x="523">8.0</tspan></text><text class="l" y="528.5"><tspan x="540">VPCI 114/11</tspan><tspan x="625">India</tspan><tspan x="711">Clinical</tspan></text></g>
<g id="r71"><text class="n" y="535.5"><tspan x="327">7.0</tspan><tspan x="351">13.0</tspan><tspan x="402">29.0</tspan><tspan x="426">8.0</tspan><tspan x="451">11.0</tspan><tspan x="476">9.0</tspan><tspan x="501">15.0</tspan><tspan x="523">8.0</tspan></text><text class="l" y="535.5"><tspan x="540">VPCI 1807/10</tspan><tspan x="625">India</tspan><tspan x="711">Clinical</tspan></text></g>
<g id="r72"><text class="n" y="542.4"><tspan x="327">7.0</tspan><tspan x="351">13.0</tspan><tspan x="376">33.0</tspan><tspan x="402">29.0</tspan><tspan x="426">8.0</tspan><tspan x="451">11.0</tspan><tspan x="476">9.0</tspan><tspan x="501">15.0</tspan><tspan x="523">8.0</tspan></text><text class="l" y="542.4"><tspan x="540">VPCI 1672/10</tspan><tspan x="625">India</tspan><tspan x="711">Clinical</tspan></text></g>
<g id="r73"><text class="n" y="549.4"><tspan x="327">7.0</tspan><tspan x="351">13.0</tspan><tspan x="376">33.0</tspan><tspan x="402">29.0</tspan><tspan x="426">8.0</tspan><tspan x="451">11.0</tspan><tspan x="476">9.0</tspan><tspan x="501">15.0</tspan><tspan x="523">8.0</tspan></text><text class="l" y="549.4"><tspan x="540">VPCI 992/10</tspan><tspan x="625">India</tspan><tspan x="711">Clinical</tspan></text></g>
<g id="r74"><text class="n" y="556.3"><tspan x="327">7.0</tspan><tspan x="351">17.0</tspan><tspan x="376">33.0</tspan><tspan x="402">29.0</tspan><tspan x="426">36.0</tspan><tspan x="451">21.0</tspan><tspan x="476">9.0</tspan><tspan x="501">15.0</tspan><tspan x="523">5.0</tspan></text><text class="l" y="556.3"><tspan x="540">VPCI 1415/09</tspan><tspan x="625">India</tspan><tspan x="711">Clinical</tspan></text></g>
<g id="r75"><text class="n" y="563.3"><tspan x="327">7.0</tspan><tspan x="351">29.0</tspan><tspan x="376">18.0</tspan><tspan x="402">29.0</tspan><tspan x="426">34.0</tspan><tspan x="451">21.0</tspan><tspan x="476">9.0</tspan><tspan x="501">7.0</tspan><tspan x="523">5.0</tspan></text><text class="l" y="563.3"><tspan x="540">VPCI 2433/11</tspan><tspan x="625">India</tspan><tspan x="711">Clinical</tspan></text></g>
<g id="r76"><text class="n" y="570.3"><tspan x="327">7.0</tspan><tspan x="351">29.0</tspan><tspan x="376">18.0</tspan><tspan x="402">29.0</tspan><tspan x="426">34.0</tspan><tspan x="451">21.0</tspan><tspan x="476">9.0</tspan><tspan x="501">7.0</tspan><tspan x="523">5.0</tspan></text><text class="l" y="570.3"><tspan x="540">VPCI 1956/11</tspan><tspan x="625">India</tspan><tspan x="711">Clinical</tspan></text></g>
<g id="r77"><text class="n" y="577.2"><tspan x="327">7.0</tspan><tspan x="351">29.0</tspan><tspan x="376">18.0</tspan><tspan x="402">29.0</tspan><tspan x="426">34.0</tspan><tspan x="451">21.0</tspan><tspan x="476">9.0</tspan><tspan x="501">7.0</tspan><tspan x="523">5.0</tspan></text><text class="l" y="577.2"><tspan x="540">VPCI 1862/11</tspan><tspan x="625">India</tspan><tspan x="711">Clinical</tspan></text></g>
<g id="r78"><text class="n" y="584.2"><tspan x="351">29.0</tspan><tspan x="376">18.0</tspan><tspan x="402">29.0</tspan><tspan x="426">34.0</tspan><tspan x="451">21.0</tspan><tspan x="476">9.0</tspan><tspan x="501">7.0</tspan><tspan x="523">5.0</tspan></text><text class="l" y="584.2"><tspan x="540">VPCI 74/11</tspan><tspan x="625">India</tspan><tspan x="711">Clinical</tspan></text></g>
<g id="r79"><text class="n" y="591.1"><tspan x="327">3.0</tspan><tspan x="351">29.0</tspan><tspan x="376">18.0</tspan><tspan x="402">29.0</tspan><tspan x="426">34.0</tspan><tspan x="451">21.0</tspan><tspan x="476">9.0</tspan><tspan x="501">7.0</tspan><tspan x="523">5.0</tspan></text><text class="l" y="591.1"><tspan x="540">VPCI 665/11</tspan><tspan x="625">India</tspan><tspan x="711">Clinical</tspan></text></g>
<g id="r80"><text class="n" y="598.1"><tspan x="327">43.0</tspan><tspan x="376">18.0</tspan><tspan x="402">29.0</tspan><tspan x="426">34.0</tspan><tspan x="451">21.0</tspan><tspan x="476">9.0</tspan><tspan x="501">7.0</tspan><tspan x="523">5.0</tspan></text><text class="l" y="598.1"><tspan x="540">VPCI 2530/11</tspan><tspan x="625">India</tspan><tspan x="711">Clinical</tspan></text></g>
<g id="r81"><text class="n" y="605.1"><tspan x="327">43.0</tspan><tspan x="351">29.0</tspan><tspan x="376">18.0</tspan><tspan x="402">29.0</tspan><tspan x="426">34.0</tspan><tspan x="451">21.0</tspan><tspan x="476">9.0</tspan><tspan x="501">7.0</tspan><tspan x="523">5.0</tspan></text><text class="l" y="605.1"><tspan x="540">VPCI 664/11</tspan><tspan x="625">India</tspan><tspan x="711">Clinical</tspan></text></g>
<g id="r82"><text class="n" y="612.0"><tspan x="327">43.0</tspan><tspan x="351">29.0</tspan><tspan x="376">18.0</tspan><tspan x="402">29.0</tspan><tspan x="426">34.0</tspan><tspan x="451">21.0</tspan><tspan x="476">9.0</tspan><tspan x="501">7.0</tspan><tspan x="523">5.0</tspan></text><text class="l" y="612.0"><tspan x="540">VPCI 1354/11</tspan><tspan x="625">India</tspan><tspan x="711">Clinical</tspan></text></g>
<g id="r83"><text class="n" y="619.0"><tspan x="327">43.0</tspan><tspan x="351">29.0</tspan><tspan x="376">18.0</tspan><tspan x="402">29.0</tspan><tspan x="426">34.0</tspan><tspan x="451">21.0</tspan><tspan x="476">9.0</tspan><tspan x="501">7.0</tspan><tspan x="523">5.0</tspan></text><text class="l" y="619.0"><tspan x="540">VPCI 94/E1/11/1</tspan><tspan x="625">India</tspan></text><text class="e" x="710.5" y="619.0">Environmental</text></g>
<g id="r84"><text class="n" y="625.9"><tspan x="327">7.0</tspan><tspan x="351">28.0</tspan><tspan x="376">18.0</tspan><tspan x="402">29.0</tspan><tspan x="426">34.0</tspan><tspan x="451">21.0</tspan><tspan x="476">9.0</tspan><tspan x="501">7.0</tspan><tspan x="523">5.0</tspan></text><text class="l" y="625.9"><tspan x="540">VPCI 72/P/10</tspan><tspan x="625">India</tspan><tspan x="711">Clinical</tspan></text></g>
<g id="r85"><text class="n" y="632.9"><tspan x="327">7.0</tspan><tspan x="351">28.0</tspan><tspan x="376">18.0</tspan><tspan x="402">29.0</tspan><tspan x="426">34.0</tspan><tspan x="451">21.0</tspan><tspan x="476">9.0</tspan><tspan x="501">7.0</tspan><tspan x="523">5.0</tspan></text><text class="l" y="632.9"><tspan x="540">VPCI 603/P/12</tspan><tspan x="625">India</tspan><tspan x="711">Clinical</tspan></text></g>
<g id="r86"><text class="n" y="639.9"><tspan x="327">9.0</tspan><tspan x="351">29.0</tspan><tspan x="376">18.0</tspan><tspan x="402">29.0</tspan><tspan x="426">8.0</tspan><tspan x="451">12.0</tspan><tspan x="476">9.0</tspan><tspan x="501">22.0</tspan><tspan x="523">5.0</tspan></text><text class="l" y="639.9"><tspan x="540">VPCI 163/E1/11</tspan><tspan x="625">India</tspan></text><text class="e" x="710.5" y="639.9">Environmental</text></g>
<g id="r87"><text class="n" y="646.8"><tspan x="327">7.0</tspan><tspan x="351">15.0</tspan><tspan x="376">19.0</tspan><tspan x="402">21.0</tspan><tspan x="426">7.0</tspan><tspan x="451">21.0</tspan><tspan x="476">9.0</tspan><tspan x="501">5.0</tspan><tspan x="523">5.0</tspan></text><text class="l" y="646.8"><tspan x="540">VPCI 1239/11</tspan><tspan x="625">India</tspan><tspan x="711">Clinical</tspan></text></g>
<g id="r88"><text class="n" y="653.8"><tspan x="327">7.0</tspan><tspan x="351">15.0</tspan><tspan x="376">19.0</tspan><tspan x="402">21.0</tspan><tspan x="426">7.0</tspan><tspan x="451">21.0</tspan><tspan x="476">9.0</tspan><tspan x="501">5.0</tspan><tspan x="523">5.0</tspan></text><text class="l" y="653.8"><tspan x="540">VPCI 1278/11</tspan><tspan x="625">India</tspan><tspan x="711">Clinical</tspan></text></g>
<g id="r89"><text class="n" y="660.7"><tspan x="327">7.0</tspan><tspan x="351">15.0</tspan><tspan x="376">19.0</tspan><tspan x="402">21.0</tspan><tspan x="426">7.0</tspan><tspan x="451">21.0</tspan><tspan x="476">9.0</tspan><tspan x="501">5.0</tspan><tspan x="523">5.0</tspan></text><text class="l" y="660.7"><tspan x="540">VPCI 1277/11</tspan><tspan x="625">India</tspan><tspan x="711">Clinical</tspan></text></g>
<g id="r90"><text class="n" y="667.7"><tspan x="327">12.0</tspan><tspan x="351">19.0</tspan><tspan x="376">18.0</tspan><tspan x="402">12.0</tspan><tspan x="426">24.0</tspan><tspan x="451">39.0</tspan><tspan x="476">9.0</tspan><tspan x="501">8.0</tspan><tspan x="523">5.0</tspan></text><text class="l" y="667.7"><tspan x="540">UAB_21</tspan><tspan x="625">USA</tspan><tspan x="711">Unknown</tspan></text></g>
<g id="r91"><text class="n" y="674.7"><tspan x="327">16.0</tspan><tspan x="351">14.0</tspan><tspan x="376">23.0</tspan><tspan x="426">8.0</tspan><tspan x="451">14.0</tspan><tspan x="476">9.0</tspan><tspan x="501">4.0</tspan><tspan x="523">5.0</tspan></text><text class="l" y="674.7"><tspan x="540">VPCI 807/10</tspan><tspan x="625">India</tspan><tspan x="711">Clinical</tspan></text></g>
<g id="r92"><text class="n" y="681.6"><tspan x="327">16.0</tspan><tspan x="351">14.0</tspan><tspan x="376">18.0</tspan><tspan x="402">15.0</tspan><tspan x="426">9.0</tspan><tspan x="476">9.0</tspan><tspan x="501">9.0</tspan><tspan x="523">5.0</tspan></text><text class="l" y="681.6"><tspan x="540">VPCI 2645/11</tspan><tspan x="625">India</tspan><tspan x="711">Clinical</tspan></text></g>
<g id="r93"><text class="n" y="688.6"><tspan x="327">10.1</tspan><tspan x="351">13.0</tspan><tspan x="376">16.0</tspan><tspan x="402">3.0</tspan><tspan x="426">9.0</tspan><tspan x="451">12.0</tspan><tspan x="476">9.0</tspan><tspan x="501">9.0</tspan><tspan x="523">5.0</tspan></text><text class="l" y="688.6"><tspan x="540">VPCI 1801/09</tspan><tspan x="625">India</tspan><tspan x="711">Clinical</tspan></text></g>
<g id="r94"><text class="n" y="695.5"><tspan x="327">20.0</tspan><tspan x="351">16.0</tspan><tspan x="376">16.0</tspan><tspan x="402">18.0</tspan><tspan x="426">38.0</tspan><tspan x="451">18.0</tspan><tspan x="476">9.0</tspan><tspan x="501">8.0</tspan><tspan x="523">8.0</tspan></text><text class="l" y="695.5"><tspan x="540">VPCI 2462/11</tspan><tspan x="625">India</tspan><tspan x="711">Clinical</tspan></text></g>
<g id="r95"><text class="n" y="702.5"><tspan x="327">20.0</tspan><tspan x="351">16.0</tspan><tspan x="376">16.0</tspan><tspan x="402">18.0</tspan><tspan x="426">38.0</tspan><tspan x="451">18.0</tspan><tspan x="476">9.0</tspan><tspan x="501">8.0</tspan><tspan x="523">8.0</tspan></text><text class="l" y="702.5"><tspan x="540">VPCI 85/E1/11/2</tspan><tspan x="625">India</tspan></text><text class="e" x="710.5" y="702.5">Environmental</text></g>
<g id="r96"><text class="n" y="709.5"><tspan x="327">8.0</tspan><tspan x="351">16.0</tspan><tspan x="376">25.0</tspan><tspan x="402">22.0</tspan><tspan x="426">17.0</tspan><tspan x="451">29.0</tspan><tspan x="476">9.0</tspan><tspan x="501">13.0</tspan><tspan x="523">8.0</tspan></text><text class="l" y="709.5"><tspan x="540">VPCI 184/P/11</tspan><tspan x="625">India</tspan><tspan x="711">Clinical</tspan></text></g>
<g id="r97"><text class="n" y="716.4"><tspan x="327">10.0</tspan><tspan x="351">16.0</tspan><tspan x="376">28.0</tspan><tspan x="402">41.0</tspan><tspan x="426">24.0</tspan><tspan x="451">12.0</tspan><tspan x="476">9.0</tspan><tspan x="501">7.0</tspan><tspan x="523">8.0</tspan></text><text class="l" y="716.4"><tspan x="540">VPCI 741/11</tspan><tspan x="625">India</tspan><tspan x="711">Clinical</tspan></text></g>
<g id="r98"><text class="n" y="723.4"><tspan x="327">10.0</tspan><tspan x="351">8.0</tspan><tspan x="376">30.0</tspan><tspan x="402">26.2</tspan><tspan x="426">8.0</tspan><tspan x="451">12.0</tspan><tspan x="476">9.0</tspan><tspan x="501">8.0</tspan><tspan x="523">8.0</tspan></text><text class="l" y="723.4"><tspan x="540">VPCI 136/P/10</tspan><tspan x="625">India</tspan><tspan x="711">Clinical</tspan></text></g>
<g id="r99"><text class="n" y="730.3"><tspan x="327">10.0</tspan><tspan x="351">28.0</tspan><tspan x="376">24.0</tspan><tspan x="402">13.0</tspan><tspan x="426">24.0</tspan><tspan x="451">12.0</tspan><tspan x="476">9.0</tspan><tspan x="501">30.0</tspan><tspan x="523">5.0</tspan></text><text class="l" y="730.3"><tspan x="540">85</tspan><tspan x="625">USA</tspan><tspan x="711">Unknown</tspan></text></g>
<g id="r100"><text class="n" y="737.3"><tspan x="327">20.0</tspan><tspan x="351">8.0</tspan><tspan x="376">21.0</tspan><tspan x="402">14.0</tspan><tspan x="426">9.0</tspan><tspan x="451">11.1</tspan><tspan x="476">8.0</tspan><tspan x="501">9.0</tspan><tspan x="523">7.0</tspan></text><text class="l" y="737.3"><tspan x="540">VPCI 36/P/13</tspan><tspan x="625">India</tspan><tspan x="711">Clinical</tspan></text></g>
<g id="r101"><text class="n" y="744.3"><tspan x="327">20.0</tspan><tspan x="351">19.0</tspan><tspan x="376">24.0</tspan><tspan x="402">19.0</tspan><tspan x="426">7.0</tspan><tspan x="451">15.0</tspan><tspan x="476">8.0</tspan><tspan x="501">11.0</tspan><tspan x="523">7.0</tspan></text><text class="l" y="744.3"><tspan x="540">UAB_37</tspan><tspan x="625">USA</tspan><tspan x="711">Unknown</tspan></text></g>
<g id="r102"><text class="n" y="751.2"><tspan x="327">12.1</tspan><tspan x="351">8.0</tspan><tspan x="376">19.0</tspan><tspan x="402">3.0</tspan><tspan x="426">7.0</tspan><tspan x="451">29.0</tspan><tspan x="476">11.0</tspan><tspan x="501">18.0</tspan><tspan x="523">7.0</tspan></text><text class="l" y="751.2"><tspan x="540">VPCI 264/P/12</tspan><tspan x="625">India</tspan><tspan x="711">Clinical</tspan></text></g>
<g id="r103"><text class="n" y="758.2"><tspan x="327">12.1</tspan><tspan x="351">8.0</tspan><tspan x="376">19.0</tspan><tspan x="402">29.0</tspan><tspan x="426">7.0</tspan><tspan x="451">29.0</tspan><tspan x="476">11.0</tspan><tspan x="501">18.0</tspan><tspan x="523">7.0</tspan></text><text class="l" y="758.2"><tspan x="540">VPCI 1031/12</tspan><tspan x="625">India</tspan><tspan x="711">Clinical</tspan></text></g>
<g id="r104"><text class="n" y="765.1"><tspan x="327">12.1</tspan><tspan x="351">7.0</tspan><tspan x="376">19.0</tspan><tspan x="402">3.2</tspan><tspan x="426">7.0</tspan><tspan x="451">29.0</tspan><tspan x="476">11.0</tspan><tspan x="501">18.0</tspan><tspan x="523">7.0</tspan></text><text class="l" y="765.1"><tspan x="540">E32-D6</tspan><tspan x="625">Taiwan</tspan><tspan x="711">Unknown</tspan></text></g>
<g id="r105"><text class="n" y="772.1"><tspan x="327">9.0</tspan><tspan x="351">19.0</tspan><tspan x="376">26.0</tspan><tspan x="402">33.0</tspan><tspan x="426">8.0</tspan><tspan x="451">23.0</tspan><tspan x="476">11.0</tspan><tspan x="501">18.0</tspan><tspan x="523">7.0</tspan></text><text class="l" y="772.1"><tspan x="540">VPCI 611/12</tspan><tspan x="625">India</tspan><tspan x="711">Clinical</tspan></text></g>
<g id="r106"><text class="n" y="779.1"><tspan x="327">9.0</tspan><tspan x="351">7.0</tspan><tspan x="376">21.0</tspan><tspan x="402">3.0</tspan><tspan x="426">8.0</tspan><tspan x="451">54.0</tspan><tspan x="476">9.0</tspan><tspan x="501">8.0</tspan><tspan x="523">7.0</tspan></text><text class="l" y="779.1"><tspan x="540">VPCI 1305/12</tspan><tspan x="625">India</tspan><tspan x="711">Clinical</tspan></text></g>
<g id="r107"><text class="n" y="786.0"><tspan x="327">9.0</tspan><tspan x="351">7.0</tspan><tspan x="376">21.0</tspan><tspan x="426">8.0</tspan><tspan x="451">54.0</tspan><tspan x="476">9.0</tspan><tspan x="501">8.0</tspan><tspan x="523">7.0</tspan></text><text class="l" y="786.0"><tspan x="540">VPCI 1166/12</tspan><tspan x="625">India</tspan><tspan x="711">Clinical</tspan></text></g>
<g id="r108"><text class="n" y="793.0"><tspan x="327">9.0</tspan><tspan x="351">7.0</tspan><tspan x="376">21.0</tspan><tspan x="402">3.0</tspan><tspan x="426">8.0</tspan><tspan x="451">54.0</tspan><tspan x="476">9.0</tspan><tspan x="501">8.0</tspan><tspan x="523">7.0</tspan></text><text class="l" y="793.0"><tspan x="540">VPCI 1330/12</tspan><tspan x="625">India</tspan><tspan x="711">Clinical</tspan></text></g>
<g id="r109"><text class="n" y="799.9"><tspan x="327">9.0</tspan><tspan x="351">7.0</tspan><tspan x="376">21.0</tspan><tspan x="402">3.0</tspan><tspan x="426">11.0</tspan><tspan x="451">54.0</tspan><tspan x="476">9.0</tspan><tspan x="501">8.0</tspan><tspan x="523">7.0</tspan></text><text class="l" y="799.9"><tspan x="540">VPCI 1329/12</tspan><tspan x="625">India</tspan><tspan x="711">Clinical</tspan></text></g>
<g id="r110"><text class="n" y="806.9"><tspan x="327">9.0</tspan><tspan x="351">24.0</tspan><tspan x="376">24.0</tspan><tspan x="402">16.0</tspan><tspan x="426">8.0</tspan><tspan x="451">25.0</tspan><tspan x="476">9.0</tspan><tspan x="501">8.0</tspan><tspan x="523">7.0</tspan></text><text class="l" y="806.9"><tspan x="540">VPCI 1079/11</tspan><tspan x="625">India</tspan><tspan x="711">Clinical</tspan></text></g>
<g id="r111"><text class="n" y="813.9"><tspan x="327">9.0</tspan><tspan x="351">24.0</tspan><tspan x="376">24.0</tspan><tspan x="402">16.0</tspan><tspan x="426">8.0</tspan><tspan x="451">25.0</tspan><tspan x="476">9.0</tspan><tspan x="501">8.0</tspan><tspan x="523">7.0</tspan></text><text class="l" y="813.9"><tspan x="540">VPCI 206/P/09</tspan><tspan x="625">India</tspan><tspan x="711">Clinical</tspan></text></g>
<g id="r112"><text class="n" y="820.8"><tspan x="327">7.0</tspan><tspan x="351">7.0</tspan><tspan x="376">21.0</tspan><tspan x="402">23.0</tspan><tspan x="426">9.0</tspan><tspan x="451">11.0</tspan><tspan x="476">9.0</tspan><tspan x="501">7.0</tspan><tspan x="523">7.0</tspan></text><text class="l" y="820.8"><tspan x="540">VPCI 154/10</tspan><tspan x="625">India</tspan><tspan x="711">Clinical</tspan></text></g>
<g id="r113"><text class="n" y="827.8"><tspan x="327">9.0</tspan><tspan x="351">27.0</tspan><tspan x="376">12.1</tspan><tspan x="402">29.0</tspan><tspan x="426">11.0</tspan><tspan x="451">28.0</tspan><tspan x="476">9.0</tspan><tspan x="501">11.0</tspan><tspan x="523">7.0</tspan></text><text class="l" y="827.8"><tspan x="540">VPCI 2275/11</tspan><tspan x="625">India</tspan><tspan x="711">Clinical</tspan></text></g>
<g id="r114"><text class="n" y="834.7"><tspan x="327">9.0</tspan><tspan x="351">27.0</tspan><tspan x="376">12.1</tspan><tspan x="402">29.0</tspan><tspan x="426">11.0</tspan><tspan x="451">28.0</tspan><tspan x="476">9.0</tspan><tspan x="501">11.0</tspan><tspan x="523">7.0</tspan></text><text class="l" y="834.7"><tspan x="540">VPCI 90/E1/11</tspan><tspan x="625">India</tspan></text><text class="e" x="710.5" y="834.7">Environmental</text></g>
<g id="r115"><text class="n" y="841.7"><tspan x="327">21.0</tspan><tspan x="351">22.0</tspan><tspan x="376">23.0</tspan><tspan x="402">5.0</tspan><tspan x="426">7.0</tspan><tspan x="451">16.0</tspan><tspan x="476">9.0</tspan><tspan x="501">9.0</tspan><tspan x="523">7.0</tspan></text><text class="l" y="841.7"><tspan x="540">UAB_6</tspan><tspan x="625">USA</tspan><tspan x="711">Unknown</tspan></text></g>
<g id="r116"><text class="n" y="848.7"><tspan x="327">9.0</tspan><tspan x="351">22.0</tspan><tspan x="376">17.0</tspan><tspan x="402">5.0</tspan><tspan x="426">7.0</tspan><tspan x="451">31.0</tspan><tspan x="476">9.0</tspan><tspan x="501">9.0</tspan><tspan x="523">7.0</tspan></text><text class="l" y="848.7"><tspan x="540">UAB_7</tspan><tspan x="625">USA</tspan><tspan x="711">Unknown</tspan></text></g>
<g id="r117"><text class="n" y="855.6"><tspan x="327">16.0</tspan><tspan x="351">22.0</tspan><tspan x="376">18.0</tspan><tspan x="402">11.0</tspan><tspan x="426">7.0</tspan><tspan x="451">28.0</tspan><tspan x="476">9.0</tspan><tspan x="501">14.0</tspan><tspan x="523">7.0</tspan></text><text class="l" y="855.6"><tspan x="540">40784001</tspan><tspan x="625">France</tspan><tspan x="711">Clinical</tspan></text></g>
<g id="r118"><text class="n" y="862.6"><tspan x="327">18.0</tspan><tspan x="351">21.0</tspan><tspan x="376">38.0</tspan><tspan x="402">3.0</tspan><tspan x="426">16.0</tspan><tspan x="476">9.0</tspan><tspan x="501">15.0</tspan><tspan x="523">7.0</tspan></text><text class="l" y="862.6"><tspan x="540">VPCI 614/09</tspan><tspan x="625">India</tspan><tspan x="711">Clinical</tspan></text></g>
<g id="r119"><text class="n" y="869.5"><tspan x="327">18.0</tspan><tspan x="351">21.0</tspan><tspan x="376">31.0</tspan><tspan x="402">29.0</tspan><tspan x="426">16.0</tspan><tspan x="451">11.0</tspan><tspan x="476">9.0</tspan><tspan x="501">15.0</tspan><tspan x="523">7.0</tspan></text><text class="l" y="869.5"><tspan x="540">VPCI 914/10</tspan><tspan x="625">India</tspan><tspan x="711">Clinical</tspan></text></g>
<g id="r120"><text class="n" y="876.5"><tspan x="327">27.0</tspan><tspan x="351">29.0</tspan><tspan x="376">19.0</tspan><tspan x="402">21.0</tspan><tspan x="426">21.0</tspan><tspan x="451">24.0</tspan><tspan x="476">9.0</tspan><tspan x="501">15.0</tspan><tspan x="523">7.0</tspan></text><text class="l" y="876.5"><tspan x="540">VPCI 1541/11</tspan><tspan x="625">India</tspan><tspan x="711">Clinical</tspan></text></g>
<g id="r121"><text class="n" y="883.5"><tspan x="327">26.0</tspan><tspan x="351">9.0</tspan><tspan x="376">20.0</tspan><tspan x="402">8.0</tspan><tspan x="426">8.0</tspan><tspan x="451">29.0</tspan><tspan x="476">5.0</tspan><tspan x="501">8.0</tspan><tspan x="523">7.0</tspan></text><text class="l" y="883.5"><tspan x="540">10291028</tspan><tspan x="625">Norway</tspan><tspan x="711">Unknown</tspan></text></g>
<g id="r122"><text class="n" y="890.4"><tspan x="327">26.0</tspan><tspan x="351">9.0</tspan><tspan x="376">20.0</tspan><tspan x="402">8.0</tspan><tspan x="426">9.0</tspan><tspan x="451">30.0</tspan><tspan x="476">5.0</tspan><tspan x="501">8.0</tspan><tspan x="523">7.0</tspan></text><text class="l" y="890.4"><tspan x="540">05-450456</tspan><tspan x="625">The Netherlands</tspan><tspan x="711">Clinical</tspan></text></g>
<g id="r123"><text class="n" y="897.4"><tspan x="327">25.0</tspan><tspan x="351">9.0</tspan><tspan x="376">20.0</tspan><tspan x="402">8.0</tspan><tspan x="426">8.0</tspan><tspan x="451">29.0</tspan><tspan x="476">5.0</tspan><tspan x="501">8.0</tspan><tspan x="523">7.0</tspan></text><text class="l" y="897.4"><tspan x="540">40103736-a</tspan><tspan x="625">France</tspan><tspan x="711">Clinical</tspan></text></g>
<g id="r124"><text class="n" y="904.3"><tspan x="327">25.0</tspan><tspan x="351">9.0</tspan><tspan x="376">20.0</tspan><tspan x="402">8.0</tspan><tspan x="426">8.0</tspan><tspan x="451">30.0</tspan><tspan x="476">5.0</tspan><tspan x="501">8.0</tspan><tspan x="523">7.0</tspan></text><text class="l" y="904.3"><tspan x="540">40104522</tspan><tspan x="625">France</tspan><tspan x="711">Clinical</tspan></text></g>
<g id="r125"><text class="n" y="911.3"><tspan x="327">8.0</tspan><tspan x="351">9.0</tspan><tspan x="376">20.0</tspan><tspan x="402">3.2</tspan><tspan x="426">7.0</tspan><tspan x="451">29.0</tspan><tspan x="476">5.0</tspan><tspan x="501">8.0</tspan><tspan x="523">7.0</tspan></text><text class="l" y="911.3"><tspan x="540">40489633-1</tspan><tspan x="625">France</tspan><tspan x="711">Clinical</tspan></text></g>
<g id="r126"><text class="n" y="918.3"><tspan x="327">8.0</tspan><tspan x="351">9.0</tspan><tspan x="376">20.0</tspan><tspan x="402">3.2</tspan><tspan x="426">7.0</tspan><tspan x="451">29.0</tspan><tspan x="476">5.0</tspan><tspan x="501">8.0</tspan><tspan x="523">7.0</tspan></text><text class="l" y="918.3"><tspan x="540">03-450841</tspan><tspan x="625">The Netherlands</tspan><tspan x="711">Clinical</tspan></text></g>
<g id="r127"><text class="n" y="925.2"><tspan x="327">9.0</tspan><tspan x="351">11.0</tspan><tspan x="376">42.1</tspan><tspan x="402">10.0</tspan><tspan x="426">12.0</tspan><tspan x="451">18.0</tspan><tspan x="476">8.0</tspan><tspan x="501">8.0</tspan><tspan x="523">11.0</tspan></text><text class="l" y="925.2"><tspan x="540">B67-A7</tspan><tspan x="625">China</tspan><tspan x="711">Unknown</tspan></text></g>
<g id="r128"><text class="n" y="932.2"><tspan x="327">28.1</tspan><tspan x="351">10.0</tspan><tspan x="376">29.0</tspan><tspan x="402">10.0</tspan><tspan x="426">10.0</tspan><tspan x="451">7.0</tspan><tspan x="476">9.0</tspan><tspan x="501">8.0</tspan><tspan x="523">11.0</tspan></text><text class="l" y="932.2"><tspan x="540">10181206</tspan><tspan x="625">Norway</tspan><tspan x="711">Unknown</tspan></text></g>
<g id="r129"><text class="n" y="939.1"><tspan x="327">4.1</tspan><tspan x="351">15.0</tspan><tspan x="376">9.0</tspan><tspan x="402">3.2</tspan><tspan x="426">7.0</tspan><tspan x="451">17.0</tspan><tspan x="476">5.0</tspan><tspan x="501">3.0</tspan><tspan x="523">4.1</tspan></text><text class="l" y="939.1"><tspan x="540">32</tspan><tspan x="625">USA</tspan><tspan x="711">Unknown</tspan></text></g>
<g id="r130"><text class="n" y="946.1"><tspan x="327">4.1</tspan><tspan x="351">15.0</tspan><tspan x="376">9.0</tspan><tspan x="402">3.2</tspan><tspan x="426">7.0</tspan><tspan x="451">17.0</tspan><tspan x="476">5.0</tspan><tspan x="501">3.0</tspan><tspan x="523">4.1</tspan></text><text class="l" y="946.1"><tspan x="540">144</tspan><tspan x="625">USA</tspan><tspan x="711">Unknown</tspan></text></g>
<g id="r131"><text class="n" y="953.1"><tspan x="327">4.1</tspan><tspan x="351">16.0</tspan><tspan x="376">9.0</tspan><tspan x="402">3.2</tspan><tspan x="426">7.0</tspan><tspan x="451">17.0</tspan><tspan x="476">5.0</tspan><tspan x="501">3.0</tspan><tspan x="523">4.1</tspan></text><text class="l" y="953.1"><tspan x="540">45</tspan><tspan x="625">USA</tspan><tspan x="711">Unknown</tspan></text></g>
<g id="r132"><text class="n" y="960.0"><tspan x="327">4.1</tspan><tspan x="351">13.0</tspan><tspan x="376">10.0</tspan><tspan x="402">3.2</tspan><tspan x="426">7.0</tspan><tspan x="451">13.0</tspan><tspan x="476">5.0</tspan><tspan x="501">3.0</tspan><tspan x="523">5.0</tspan></text><text class="l" y="960.0"><tspan x="540">139</tspan><tspan x="625">USA</tspan><tspan x="711">Unknown</tspan></text></g>
<g id="r133"><text class="n" y="967.0"><tspan x="327">6.0</tspan><tspan x="351">13.0</tspan><tspan x="376">8.0</tspan><tspan x="402">3.2</tspan><tspan x="426">6.1</tspan><tspan x="451">61.0</tspan><tspan x="476">5.0</tspan><tspan x="501">3.0</tspan><tspan x="523">6.0</tspan></text><text class="l" y="967.0"><tspan x="540">03-450865</tspan><tspan x="625">The Netherlands</tspan><tspan x="711">Clinical</tspan></text></g>
<g id="r134"><text class="n" y="973.9"><tspan x="327">5.0</tspan><tspan x="351">9.0</tspan><tspan x="376">9.0</tspan><tspan x="426">10.0</tspan><tspan x="451">10.0</tspan><tspan x="476">5.0</tspan><tspan x="501">3.0</tspan><tspan x="523">4.0</tspan></text><text class="l" y="973.9"><tspan x="540">VPCI 335/12</tspan><tspan x="625">India</tspan><tspan x="711">Clinical</tspan></text></g>
<g id="r135"><text class="n" y="980.9"><tspan x="327">5.0</tspan><tspan x="376">8.0</tspan><tspan x="402">3.0</tspan><tspan x="426">10.0</tspan><tspan x="451">11.0</tspan><tspan x="476">5.0</tspan><tspan x="501">3.0</tspan><tspan x="523">4.0</tspan></text><text class="l" y="980.9"><tspan x="540">VPCI 1061/12</tspan><tspan x="625">India</tspan><tspan x="711">Clinical</tspan></text></g>
<g id="r136"><text class="n" y="987.9"><tspan x="351">11.0</tspan><tspan x="376">10.0</tspan><tspan x="402">3.0</tspan><tspan x="426">10.1</tspan><tspan x="476">5.0</tspan><tspan x="501">3.0</tspan><tspan x="523">7.0</tspan></text><text class="l" y="987.9"><tspan x="540">VPCI 1637/11</tspan><tspan x="625">India</tspan><tspan x="711">Clinical</tspan></text></g>
<g id="r137"><text class="n" y="994.8"><tspan x="351">14.1</tspan><tspan x="376">26.0</tspan><tspan x="402">7.0</tspan><tspan x="426">6.0</tspan><tspan x="451">61.0</tspan><tspan x="476">5.0</tspan><tspan x="501">3.0</tspan><tspan x="523">5.0</tspan></text><text class="l" y="994.8"><tspan x="540">03-450880</tspan><tspan x="625">The Netherlands</tspan><tspan x="711">Clinical</tspan></text></g>
<g id="r138"><text class="n" y="1001.8"><tspan x="327">5.0</tspan><tspan x="351">8.0</tspan><tspan x="376">8.1</tspan><tspan x="426">11.0</tspan><tspan x="451">17.0</tspan><tspan x="476">5.0</tspan><tspan x="501">3.0</tspan><tspan x="523">4.1</tspan></text><text class="l" y="1001.8"><tspan x="540">VPCI 274/P/12</tspan><tspan x="625">India</tspan><tspan x="711">Clinical</tspan></text></g>
<g id="r139"><text class="n" y="1008.7"><tspan x="327">5.0</tspan><tspan x="351">8.0</tspan><tspan x="376">8.1</tspan><tspan x="426">11.0</tspan><tspan x="451">29.0</tspan><tspan x="501">3.0</tspan></text><text class="l" y="1008.7"><tspan x="540">VPCI 282/P/12</tspan><tspan x="625">India</tspan><tspan x="711">Clinical</tspan></text></g>
<g id="r140"><text class="n" y="1015.7"><tspan x="327">5.0</tspan><tspan x="351">8.0</tspan><tspan x="376">8.1</tspan><tspan x="402">15.0</tspan><tspan x="426">9.0</tspan><tspan x="451">29.0</tspan><tspan x="501">3.0</tspan></text><text class="l" y="1015.7"><tspan x="540">VPCI 283/P/12</tspan><tspan x="625">India</tspan><tspan x="711">Clinical</tspan></text></g>
<g id="r141"><text class="n" y="1022.7"><tspan x="327">5.0</tspan><tspan x="351">8.0</tspan><tspan x="376">8.1</tspan><tspan x="426">12.0</tspan><tspan x="476">5.0</tspan><tspan x="501">3.0</tspan><tspan x="523">4.1</tspan></text><text class="l" y="1022.7"><tspan x="540">VPCI 330/P/12</tspan><tspan x="625">India</tspan><tspan x="711">Clinical</tspan></text></g>
<g id="r142"><text class="n" y="1029.6"><tspan x="327">3.0</tspan><tspan x="351">8.0</tspan><tspan x="376">9.0</tspan><tspan x="402">15.0</tspan><tspan x="426">9.0</tspan><tspan x="451">67.0</tspan><tspan x="476">5.0</tspan><tspan x="501">3.0</tspan><tspan x="523">4.1</tspan></text><text class="l" y="1029.6"><tspan x="540">VPCI 161/P/10</tspan><tspan x="625">India</tspan><tspan x="711">Clinical</tspan></text></g>
<g id="r143"><text class="n" y="1036.6"><tspan x="327">4.1</tspan><tspan x="351">8.0</tspan><tspan x="376">8.1</tspan><tspan x="426">10.0</tspan><tspan x="451">11.0</tspan><tspan x="476">5.0</tspan><tspan x="501">3.1</tspan><tspan x="523">4.1</tspan></text><text class="l" y="1036.6"><tspan x="540">VPCI 741/12</tspan><tspan x="625">India</tspan><tspan x="711">Clinical</tspan></text></g>
<g id="r144"><text class="n" y="1043.5"><tspan x="327">5.0</tspan><tspan x="351">15.0</tspan><tspan x="376">8.1</tspan><tspan x="402">3.0</tspan><tspan x="426">9.0</tspan><tspan x="451">19.0</tspan><tspan x="476">5.0</tspan><tspan x="501">3.1</tspan><tspan x="523">4.1</tspan></text><text class="l" y="1043.5"><tspan x="540">VPCI 94/E1/11/2</tspan><tspan x="625">India</tspan></text><text class="e" x="710.5" y="1043.5">Environmental</text></g>
<g id="r145"><text class="n" y="1050.5"><tspan x="327">5.0</tspan><tspan x="351">8.0</tspan><tspan x="376">9.0</tspan><tspan x="402">29.0</tspan><tspan x="426">12.0</tspan><tspan x="451">38.0</tspan><tspan x="476">9.0</tspan><tspan x="501">3.1</tspan><tspan x="523">4.1</tspan></text><text class="l" y="1050.5"><tspan x="540">VPCI 2038/12</tspan><tspan x="625">India</tspan><tspan x="711">Clinical</tspan></text></g>
<g id="r146"><text class="n" y="1057.5"><tspan x="327">2.0</tspan><tspan x="351">8.1</tspan><tspan x="376">6.0</tspan><tspan x="402">14.0</tspan><tspan x="426">3.0</tspan><tspan x="451">11.1</tspan><tspan x="476">5.0</tspan><tspan x="501">3.0</tspan><tspan x="523">4.2</tspan></text><text class="l" y="1057.5"><tspan x="540">VPCI 1509/10</tspan><tspan x="625">India</tspan><tspan x="711">Clinical</tspan></text></g>
<g id="r147"><text class="n" y="1064.4"><tspan x="327">2.0</tspan><tspan x="351">8.1</tspan><tspan x="376">6.0</tspan><tspan x="402">14.0</tspan><tspan x="426">3.0</tspan><tspan x="451">11.1</tspan><tspan x="476">5.0</tspan><tspan x="501">3.0</tspan><tspan x="523">4.2</tspan></text><text class="l" y="1064.4"><tspan x="540">VPCI 1592/10</tspan><tspan x="625">India</tspan><tspan x="711">Clinical</tspan></text></g>
</g>
</svg>
